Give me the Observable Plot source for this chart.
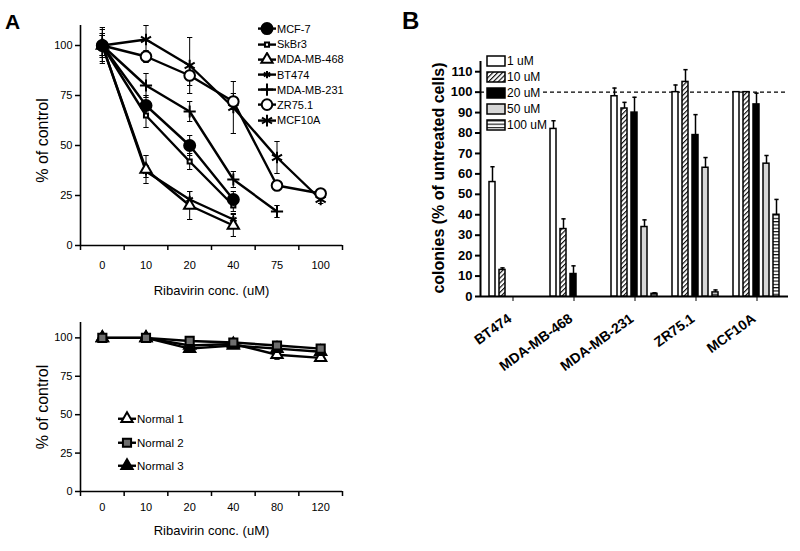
<!DOCTYPE html>
<html><head><meta charset="utf-8">
<script src="https://cdn.jsdelivr.net/npm/d3@7"></script>
<script src="https://cdn.jsdelivr.net/npm/@observablehq/plot@0.6"></script>
<style>
body{margin:0;background:#fff;}
#fig{position:relative;width:800px;height:551px;overflow:hidden;background:#fff;font-family:"Liberation Sans",Arial,sans-serif;color:#000;}
.plabel{position:absolute;font-weight:bold;line-height:1;}
.leg{position:absolute;}
.leg .row{display:flex;align-items:center;white-space:nowrap;width:max-content;background:#fff;}
.leg svg{display:block;flex:none;}
</style></head><body>
<svg width="0" height="0" style="position:absolute">
<defs>
<pattern id="pHatch" patternUnits="userSpaceOnUse" width="3.4" height="3.4" patternTransform="rotate(45)"><rect width="3.4" height="3.4" fill="white"/><line x1="0.6" y1="0" x2="0.6" y2="3.4" stroke="black" stroke-width="1.1"/></pattern>
<pattern id="pStripe" patternUnits="userSpaceOnUse" width="4" height="3.3"><rect width="4" height="3.3" fill="white"/><line x1="0" y1="0.6" x2="4" y2="0.6" stroke="black" stroke-width="1.1"/></pattern>
</defs></svg>
<div id="fig"></div>
<script>
// ---------------- DATA ----------------
// Panel A (top): cancer cell lines
const aDoses = ["0","10","20","40","75","100"];
const aTicks = [0,25,50,75,100];
const mcf7      = [100,70,50,23];
const mcf7Err   = [8,5,5,4];
const skbr3     = [100,65,42,20];
const skbr3Err  = [6,6,4,3];
const mda468    = [100,38,20,10];
const mda468Err = [5,7,7,5.5];
const bt474     = [100,37,23,13];
const bt474Err  = [5,3,4,3];
const mda231    = [100,80,67,33,17];
const mda231Err = [6,6,5,4,3];
const zr751     = [100,94.5,85,72,30,26];
const zr751Err  = [5,3,5,4,2,2];
const mcf10a    = [100,103,90,69,44,23];
const mcf10aErr = [9,7,14,13,8,2];

// Panel A (bottom): normal cells
const nDoses = ["0","10","20","40","80","120"];
const normal1    = [100,100,95,96,89,87];
const normal1Err = [1,1,2,2,3,2];
const normal2    = [100,100,98,97,95,93];
const normal2Err = [1,1,1,1,1,1];
const normal3    = [100,100,93,95,93,91];
const normal3Err = [1,1,1,1,1,1];

// Panel B: colony formation
const bGroups = ["BT474","MDA-MB-468","MDA-MB-231","ZR75.1","MCF10A"];
const bDoses  = ["1 uM","10 uM","20 uM","50 uM","100 uM"];
const bTicks  = [0,10,20,30,40,50,60,70,80,90,100,110];
const b1uM     = [56,82,98,100,100];
const b1uMErr  = [7.5,4,4,3.5,0];
const b10uM    = [13,33,92,105,100];
const b10uMErr = [1,5,3,6,0];
const b20uM    = [0,11,90,79,94];
const b20uMErr = [0,4,7.5,10,5.5];
const b50uM    = [0,0,34,63,65];
const b50uMErr = [0,0,3.5,5,4];
const b100uM   = [0,0,1.3,2,40];
const b100uMErr= [0,0,0.5,1.2,7.5];

// ---------------- STYLES ----------------
const FONT = "Liberation Sans, Arial, sans-serif";
const aSeries = [
  ["MCF-7", mcf7, mcf7Err, {symbol:"circle", r:5.5, fill:"black"}],
  ["SkBr3", skbr3, skbr3Err, {symbol:"square", r:2.3, fill:"white"}],
  ["MDA-MB-468", mda468, mda468Err, {symbol:"triangle", r:4.2, fill:"white"}],
  ["BT474", bt474, bt474Err, {symbol:"asterisk", r:3.5, fill:"none"}],
  ["MDA-MB-231", mda231, mda231Err, {symbol:"plus", r:4, fill:"none"}],
  ["ZR75.1", zr751, zr751Err, {symbol:"circle", r:5.3, fill:"white"}],
  ["MCF10A", mcf10a, mcf10aErr, {symbol:"asterisk", r:5.5, fill:"none"}]
];
const nSeries = [
  ["Normal 1", normal1, normal1Err, {symbol:"triangle", r:4.2, fill:"white"}],
  ["Normal 2", normal2, normal2Err, {symbol:"square", r:4.6, fill:"#6e6e6e"}],
  ["Normal 3", normal3, normal3Err, {symbol:"triangle", r:4.2, fill:"black"}]
];
// marker drawing order (last drawn on top)
const aDrawOrder = ["MCF10A","ZR75.1","MDA-MB-231","BT474","MDA-MB-468","SkBr3","MCF-7"];
const nDrawOrder = ["Normal 1","Normal 3","Normal 2"];
const bSeries = [[b1uM,b1uMErr],[b10uM,b10uMErr],[b20uM,b20uMErr],[b50uM,b50uMErr],[b100uM,b100uMErr]];
const bFills = ["white","url(#pHatch)","black","#d6d6d6","url(#pStripe)"];

const cap = {draw(ctx, size){ const w = Math.sqrt(size); ctx.moveTo(-w,0); ctx.lineTo(w,0); }};
const d3sym = {circle:d3.symbolCircle, square:d3.symbolSquare, triangle:d3.symbolTriangle,
               asterisk:d3.symbolAsterisk, plus:d3.symbolPlus, times:d3.symbolTimes};

const fig = document.getElementById("fig");
function place(el, left, top){ el.style.position="absolute"; el.style.left=left+"px"; el.style.top=top+"px"; el.style.background="transparent"; el.style.maxWidth="none"; fig.appendChild(el); }

function rowsOf(series){
  const rows = [];
  for (const [name, vals, errs] of series) vals.forEach((v,i)=>rows.push({series:name, i, v, e:errs[i]}));
  return rows;
}

function linePanel(series, doses, order, opts){
  const rows = rowsOf(series);
  const markers = order.map(name => {
    const st = series.find(s => s[0] === name)[3];
    return Plot.dot(rows.filter(d=>d.series===name), {x:"i", y:"v", symbol:st.symbol, r:st.r, fill:st.fill, stroke:"black", strokeWidth:2});
  });
  return Plot.plot({
    width:400, height:opts.height, marginLeft:80, marginRight:58, marginTop:opts.mt, marginBottom:opts.mb,
    x:{type:"linear", domain:[-0.5, doses.length-0.5], axis:null},
    y:{domain:[0,110], axis:null, label:null},
    style:{fontFamily:FONT, fontSize:"11px", color:"black", background:"transparent"},
    marks:[
      Plot.ruleX(rows, {x:"i", y1:d=>d.v-d.e, y2:d=>d.v+d.e, stroke:"black", strokeWidth:1}),
      Plot.dot(rows, {x:"i", y:d=>d.v+d.e, symbol:cap, r:1.5, stroke:"black", strokeWidth:1}),
      Plot.dot(rows, {x:"i", y:d=>d.v-d.e, symbol:cap, r:1.5, stroke:"black", strokeWidth:1}),
      Plot.line(rows, {x:"i", y:"v", z:"series", stroke:"black", strokeWidth:2.4}),
      ...markers,
      Plot.ruleY([0], {stroke:"black", strokeWidth:1.6}),
      Plot.ruleX([-0.5], {stroke:"black", strokeWidth:1.6}),
      Plot.axisY(aTicks, {tickSize:5, tickPadding:3, label:null, fontSize:11, strokeWidth:1.5}),
      Plot.axisX(d3.range(doses.length), {tickSize:0, tickPadding:opts.tp, tickFormat:i=>doses[i], label:null, fontSize:11}),
      Plot.axisX(d3.range(doses.length+1).map(i=>i-0.5), {tickSize:5, tickFormat:()=>"", label:null, strokeWidth:1.5}),
      Plot.text(["Ribavirin conc. (uM)"], {text:d=>d, frameAnchor:"bottom", textAnchor:"middle", lineAnchor:"middle", dy:opts.tdy, fontSize:13}),
      Plot.text(["% of control"], {text:d=>d, frameAnchor:"left", textAnchor:"middle", lineAnchor:"middle", rotate:-90, dx:-38, dy:opts.ydy, fontSize:16})
    ]
  });
}

// Panel A top
place(linePanel(aSeries, aDoses, aDrawOrder, {height:300, mt:25, mb:55, tp:16, tdy:45, ydy:5}), 0, 0);
// Panel A bottom
place(linePanel(nSeries, nDoses, nDrawOrder, {height:261, mt:32, mb:60, tp:12, tdy:39, ydy:0}), 0, 290);

// Panel B axes layer
const bAxes = Plot.plot({
  width:400, height:400, marginLeft:80, marginRight:12, marginTop:61, marginBottom:104,
  x:{domain:[0,1], axis:null}, y:{domain:[0,115], axis:null, label:null},
  style:{fontFamily:FONT, fontSize:"13px", color:"black", background:"transparent"},
  marks:[
    Plot.ruleY([100], {stroke:"black", strokeDasharray:"4,3", strokeWidth:1.2}),
    Plot.ruleY([0], {stroke:"black", strokeWidth:2}),
    Plot.ruleX([0], {stroke:"black", strokeWidth:2}),
    Plot.axisY(bTicks, {tickSize:5, tickPadding:3, label:null, fontSize:13, fontWeight:"bold", strokeWidth:2}),
    Plot.text(["colonies (% of untreated cells)"], {text:d=>d, frameAnchor:"left", textAnchor:"middle", lineAnchor:"middle", rotate:-90, dx:-42, dy:-1, fontSize:16, fontWeight:"bold"})
  ]
});
place(bAxes, 400, 0);

// Panel B bars layer
const bRows = [];
bSeries.forEach(([vals, errs], di) => vals.forEach((v, gi) => bRows.push({group:bGroups[gi], dose:bDoses[di], v, e:errs[gi]})));
const bBars = Plot.plot({
  width:400, height:400, marginLeft:80, marginRight:12, marginTop:61, marginBottom:104,
  fx:{domain:bGroups, padding:0, label:null, axis:"bottom", tickSize:5, tickFormat:()=>""},
  x:{domain:bDoses, axis:null, paddingInner:0.375, paddingOuter:0.56},
  y:{domain:[0,115], axis:null, label:null},
  color:{domain:bDoses, range:bFills},
  style:{fontFamily:FONT, fontSize:"14px", fontWeight:"bold", color:"black", background:"transparent"},
  marks:[
    Plot.barY(bRows.filter(d=>d.v>0), {fx:"group", x:"dose", y:"v", fill:"dose", stroke:"black", strokeWidth:1.5}),
    Plot.ruleX(bRows.filter(d=>d.e>0), {fx:"group", x:"dose", y1:"v", y2:d=>d.v+d.e, stroke:"black", strokeWidth:1.5}),
    Plot.dot(bRows.filter(d=>d.e>0), {fx:"group", x:"dose", y:d=>d.v+d.e, symbol:cap, r:1.2, stroke:"black", strokeWidth:1.5}),
    Plot.text(bGroups, {fx:d=>d, text:d=>d, frameAnchor:"bottom", textAnchor:"end", lineAnchor:"middle", rotate:-36, dx:-3, dy:20.5, fontSize:14, fontWeight:"bold"})
  ]
});
place(bBars, 400, 0);

// ---------------- LEGENDS (HTML) ----------------
function lineLegend(series, left, top, rowH, fontSize){
  const div = document.createElement("div");
  div.className = "leg";
  div.style.left = left+"px"; div.style.top = top+"px"; div.style.fontSize = fontSize+"px";
  for (const [name,, , st] of series){
    const row = document.createElement("div"); row.className="row"; row.style.height = rowH+"px";
    const svg = d3.create("svg").attr("width",20).attr("height",rowH);
    svg.append("line").attr("x1",1).attr("x2",19).attr("y1",rowH/2).attr("y2",rowH/2).attr("stroke","black").attr("stroke-width",2.4);
    svg.append("path").attr("d", d3.symbol(d3sym[st.symbol], Math.PI*st.r*st.r)())
      .attr("transform",`translate(10,${rowH/2})`).attr("fill",st.fill).attr("stroke","black").attr("stroke-width",2);
    row.appendChild(svg.node());
    const t = document.createElement("span"); t.textContent = name; row.appendChild(t);
    div.appendChild(row);
  }
  fig.appendChild(div);
}
lineLegend(aSeries, 257, 21.4, 15.2, 11);
lineLegend(nSeries, 117, 407.3, 23.5, 11.5);

(function barLegend(){
  const div = document.createElement("div");
  div.className = "leg"; div.style.left = "486px"; div.style.top = "53px"; div.style.fontSize = "12px";
  bDoses.forEach((name, i) => {
    const row = document.createElement("div"); row.className="row"; row.style.height = "16px";
    const svg = d3.create("svg").attr("width",21).attr("height",16);
    svg.append("rect").attr("x",1).attr("y",3).attr("width",18).attr("height",10)
      .attr("fill",bFills[i]).attr("stroke","black").attr("stroke-width",1.5);
    row.appendChild(svg.node());
    const t = document.createElement("span"); t.textContent = name; row.appendChild(t);
    div.appendChild(row);
  });
  fig.appendChild(div);
})();

// Panel letters
function letter(txt, left, top, size){ const d=document.createElement("div"); d.className="plabel"; d.textContent=txt; d.style.left=left+"px"; d.style.top=top+"px"; d.style.fontSize=size+"px"; fig.appendChild(d); }
letter("A", 5, 11, 21);
letter("B", 402, 9, 24);
</script>
</body></html>
